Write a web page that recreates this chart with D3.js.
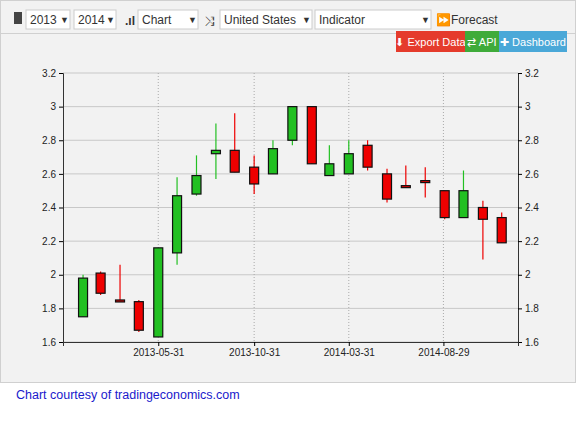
<!DOCTYPE html>
<html><head><meta charset="utf-8">
<script src="https://d3js.org/d3.v7.min.js"></script>
<style>
body{margin:0;background:#fff;font-family:"Liberation Sans",Arial,sans-serif}
</style></head>
<body><svg width="580" height="430"></svg>
<script>
// monthly candles, dated at month end
const dates = ['2013-01-31','2013-02-28','2013-03-31','2013-04-30','2013-05-31','2013-06-30','2013-07-31','2013-08-31','2013-09-30','2013-10-31','2013-11-30','2013-12-31',
  '2014-01-31','2014-02-28','2014-03-31','2014-04-30','2014-05-31','2014-06-30','2014-07-31','2014-08-31','2014-09-30','2014-10-31','2014-11-30']
const open  = [1.75,2.01,1.85,1.84,1.63,2.13,2.48,2.72,2.74,2.64,2.60,2.80,3.00,2.59,2.60,2.77,2.60,2.53,2.56,2.50,2.34,2.40,2.34]
const close = [1.98,1.89,1.84,1.67,2.16,2.47,2.59,2.74,2.61,2.54,2.75,3.00,2.66,2.66,2.72,2.64,2.45,2.52,2.55,2.34,2.50,2.33,2.19]
const high  = [2.00,2.02,2.06,1.85,2.16,2.58,2.71,2.90,2.96,2.71,2.80,3.00,3.00,2.77,2.80,2.80,2.63,2.65,2.64,2.50,2.62,2.44,2.37]
const low   = [1.75,1.88,1.84,1.66,1.63,2.06,2.47,2.57,2.61,2.48,2.60,2.77,2.66,2.59,2.60,2.62,2.43,2.52,2.46,2.33,2.34,2.09,2.19]
const yTicks = [1.6,1.8,2,2.2,2.4,2.6,2.8,3,3.2]
const xTicks = ['2013-05-31','2013-10-31','2014-03-31','2014-08-29']

const parse = d3.timeParse('%Y-%m-%d')
const svg = d3.select('svg')

// page frame
svg.append('rect').attr('x',0).attr('y',0).attr('width',580).attr('height',430).attr('fill','#fff')
svg.append('rect').attr('x',0.5).attr('y',0.5).attr('width',575).attr('height',382).attr('fill','#f2f2f2').attr('stroke','#d0d0d0')
svg.append('line').attr('x1',0).attr('x2',576).attr('y1',33.5).attr('y2',33.5).attr('stroke','#d0d0d0')

// toolbar
let tb = svg.append('g').style('font-size','12px').style('fill','#333')
tb.append('rect').attr('x',14).attr('y',12).attr('width',8).attr('height',12).attr('fill','#444')
let boxes = [[26,44,'2013'],[74,42,'2014'],[138,60,'Chart'],[220,92,'United States'],[315,116,'Indicator']]
boxes.forEach(b=>{
  tb.append('rect').attr('x',b[0]).attr('y',10).attr('width',b[1]).attr('height',19).attr('fill','#fff').attr('stroke','#ccc')
  tb.append('text').attr('x',b[0]+4).attr('y',24).text(b[2])
  tb.append('text').attr('x',b[0]+b[1]-10).attr('y',23).style('font-size','9px').text('▼')
})
tb.append('text').attr('x',125).attr('y',25).style('font-size','12px').style('font-weight','bold').text('.ıl')
tb.append('text').attr('x',204).attr('y',25).style('font-size','13px').text('⤨')
tb.append('text').attr('x',436).attr('y',24).text('⏩Forecast')
let btns = [[396,69,'#e53b2c','⬇ Export Data'],[465,34,'#3fab3a','⇄ API'],[499,68,'#4aa8d8','✚ Dashboard']]
btns.forEach(b=>{
  svg.append('rect').attr('x',b[0]).attr('y',31).attr('width',b[1]).attr('height',21).attr('fill',b[2])
  svg.append('text').attr('x',b[0]+b[1]/2).attr('y',46).attr('text-anchor','middle').style('font-size','11px').style('fill','#fff').text(b[3])
})

// plot
const pLeft = 63, pRight = 518, pTop = 73, pBottom = 342
const x = d3.scaleTime().domain([parse('2012-12-30'), parse('2014-12-26')]).range([pLeft, pRight])
const y = d3.scaleLinear().domain([1.6, 3.2]).range([pBottom, pTop])

let grid = svg.append('g')
grid.selectAll('.h').data(yTicks).join('line')
  .attr('x1',pLeft).attr('x2',pRight).attr('y1',d=>y(d)).attr('y2',d=>y(d))
  .attr('stroke','#c8c8c8')
grid.selectAll('.v').data(xTicks).join('line')
  .attr('x1',d=>x(parse(d))).attr('x2',d=>x(parse(d))).attr('y1',pTop).attr('y2',pBottom)
  .attr('stroke','#aaa').attr('stroke-dasharray','1,2')

const fmt = d => String(d)
svg.append('g').attr('transform',`translate(${pLeft},0)`)
  .call(d3.axisLeft(y).tickValues(yTicks).tickFormat(fmt).tickSize(4))
svg.append('g').attr('transform',`translate(${pRight},0)`)
  .call(d3.axisRight(y).tickValues(yTicks).tickFormat(fmt).tickSize(4))
svg.append('g').attr('transform',`translate(0,${pBottom})`)
  .call(d3.axisBottom(x).tickValues(xTicks.map(parse)).tickFormat(d3.timeFormat('%Y-%m-%d')).tickSize(4))
svg.selectAll('.tick text').style('font-size','10px').style('fill','#222').style('font-family','"Liberation Sans",Arial')
svg.selectAll('.domain').attr('stroke','#333')

const data = dates.map((d,i)=>({d:parse(d),o:open[i],c:close[i],h:high[i],l:low[i]}))
const bw = 9
let g = svg.append('g').selectAll('g').data(data).join('g')
const col = d => d.c >= d.o ? '#22c022' : '#ee0000'
g.append('line').attr('x1',d=>x(d.d)).attr('x2',d=>x(d.d)).attr('y1',d=>y(d.h)).attr('y2',d=>y(d.l))
  .attr('stroke',col).attr('stroke-width',1.2)
g.append('rect').attr('x',d=>x(d.d)-bw/2).attr('width',bw)
  .attr('y',d=>y(Math.max(d.o,d.c))).attr('height',d=>Math.max(2,Math.abs(y(d.o)-y(d.c))))
  .attr('fill',col).attr('stroke','#111').attr('stroke-width',1.2)

svg.append('text').attr('x',16).attr('y',399).style('font-size','12.5px').style('fill','#1a1acc').text('Chart courtesy of tradingeconomics.com')
</script></body></html>
